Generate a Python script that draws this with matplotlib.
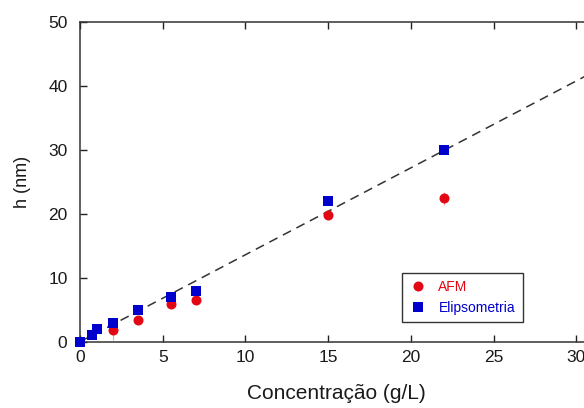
import matplotlib
matplotlib.use("Agg")
import matplotlib.pyplot as plt
import numpy as np

plt.rcParams['font.family'] = ['Liberation Sans', 'DejaVu Sans']

# AFM thickness measurements
afm_conc = [2.0, 3.5, 5.5, 7.0, 15.0, 22.0]
afm_h = [1.85, 3.4, 5.85, 6.5, 19.8, 22.4]
afm_err = [1.6, 0.3, 0.4, 0.3, 0.3, 1.0]

# Ellipsometry thickness measurements
eli_conc = [0.0, 0.7, 1.0, 2.0, 3.5, 5.5, 7.0, 15.0, 22.0]
eli_h = [0.0, 1.0, 2.0, 2.9, 5.0, 7.0, 8.0, 22.0, 30.0]

# Linear trend through the origin
fit_slope = 1.36
fit_x = [0.0, 31.0]

xticks = [0, 5, 10, 15, 20, 25, 30]
yticks = [0, 10, 20, 30, 40, 50]

fig = plt.figure(figsize=(5.84, 4.08), dpi=100)
ax = fig.add_axes([80 / 584, 66.3 / 408, (593 - 80) / 584, (341.7 - 22) / 408])

ax.plot(fit_x, [fit_slope * v for v in fit_x], linestyle=(0, (6, 4)),
        color='#333333', linewidth=1.1, zorder=2)

ax.errorbar(afm_conc, afm_h, yerr=afm_err, fmt='none', ecolor='#f4a0a0',
            elinewidth=0.8, capsize=0, zorder=3)
ax.plot(afm_conc, afm_h, 'o', color='#e30613', markersize=7.2,
        markeredgewidth=0, label='AFM', zorder=4, clip_on=False)
ax.plot(eli_conc, eli_h, 's', color='#0000cc', markersize=7.2,
        markeredgewidth=0, label='Elipsometria', zorder=5, clip_on=False)

ax.set_xlim(0, 31)
ax.set_ylim(0, 50)
ax.set_xticks(xticks)
ax.set_yticks(yticks)

for side in ['left', 'bottom', 'top', 'right']:
    ax.spines[side].set_color('#333333')
    ax.spines[side].set_linewidth(1.1)

ax.tick_params(axis='both', direction='in', length=5, width=1.0,
               color='#222222', labelsize=12.5, labelcolor='#1a1a1a')
ax.tick_params(axis='x', top=True, pad=6)
ax.tick_params(axis='y', right=True, pad=9)

ax.set_xlabel('Concentração (g/L)', fontsize=15, color='#1a1a1a', labelpad=14)
ax.set_ylabel('h (nm)', fontsize=13, color='#1a1a1a', labelpad=12)

leg = ax.legend(loc='lower left', bbox_to_anchor=(0.627, 0.061),
                borderaxespad=0, fontsize=10, fancybox=False, framealpha=1,
                edgecolor='#333333', handlelength=1.2, handletextpad=0.9,
                borderpad=0.55, labelspacing=0.45)
leg.get_frame().set_linewidth(1.0)
for txt, col in zip(leg.get_texts(), ['#e30613', '#0000cc']):
    txt.set_color(col)

fig.savefig('out.png', dpi=100)
